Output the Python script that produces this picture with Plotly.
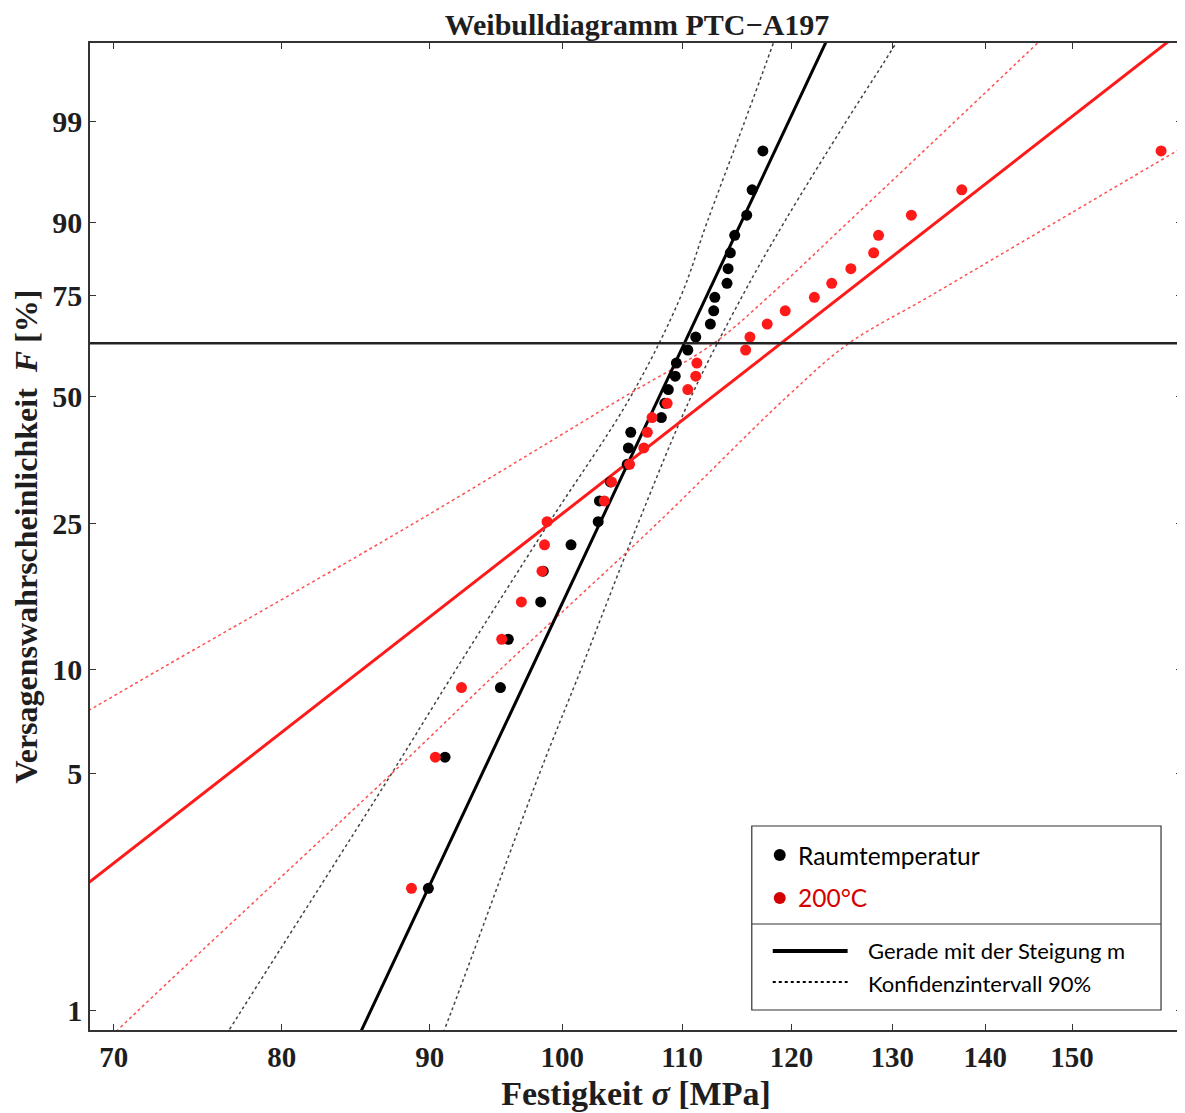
import numpy as np
import plotly.graph_objects as go

# median ranks (Benard) of the 30 specimens per series, F in %
F_rank = [2.30, 5.59, 8.88, 12.17, 15.46, 18.75, 22.04, 25.33, 28.62, 31.91,
          35.20, 38.49, 41.78, 45.07, 48.36, 51.64, 54.93, 58.22, 61.51, 64.80,
          68.09, 71.38, 74.67, 77.96, 81.25, 84.54, 87.83, 91.12, 94.41, 97.70]

# strength values [MPa]
sigma_rt = [89.9, 91.1, 95.2, 95.8, 98.3, 98.5, 100.7, 102.9, 103.0, 103.9,
            105.3, 105.4, 105.6, 108.2, 108.5, 108.8, 109.4, 109.5, 110.5, 111.2,
            112.5, 112.8, 112.9, 114.0, 114.1, 114.3, 114.7, 115.8, 116.3, 117.3]
sigma_200 = [88.7, 90.4, 92.3, 95.3, 96.8, 98.4, 98.6, 98.8, 103.4, 104.0,
             105.5, 106.7, 107.0, 107.4, 108.7, 110.5, 111.2, 111.3, 115.7, 116.1,
             117.7, 119.4, 122.2, 123.9, 125.8, 128.1, 128.6, 132.0, 137.4, 161.0]

# Weibull fits: modulus m and characteristic strength sigma0
m_rt, s0_rt = 18.46, 110.2
m_200, s0_200 = 6.76, 119.0
sigma_line = [60, 180]

# 90% confidence bands
F_band_rt = [0.5, 1, 5, 10, 25, 50, 75, 90, 99, 99.9, 99.99]
band_rt_left = [73.7, 77.5, 87.3, 91.9, 98.9, 105.6, 109.9, 112.2, 115.6, 117.6, 119.0]
band_rt_right = [88.8, 91.6, 98.2, 101.5, 106.2, 110.8, 115.4, 119.3, 125.3, 129.1, 131.8]

F_band_200_left = [5, 10, 25, 50, 63.2, 75, 90, 99, 99.9, 99.99]
band_200_left = [62.9, 72.6, 88.8, 105.1, 112.8, 117.9, 125.5, 136.6, 143.5, 148.6]
F_band_200_right = [0.5, 1, 5, 10, 25, 50, 63.2, 75, 90, 99]
band_200_right = [65.7, 71.4, 87.3, 95.2, 107.8, 119.6, 125.6, 134.0, 148.0, 169.5]

F_char = 63.21
F_ticks = [1, 5, 10, 25, 50, 75, 90, 99]
sigma_ticks = [70, 80, 90, 100, 110, 120, 130, 140, 150]


def wb(F):
    F = np.asarray(F, dtype=float) / 100.0
    return np.log(-np.log(1.0 - F))


def fit_w(m, s0):
    return m * np.log(np.asarray(sigma_line) / s0)


# the page body adds 8 px, so the figure is 8 px smaller than the window
OFF = 8
W, H = 1185 - OFF, 1113 - OFF
L, R, T, B = 90 - OFF, 1, 43 - OFF, 83
serif = "Liberation Serif"
red = "#ff1a1a"
ink = "#1e1e1e"

fig = go.Figure()

# confidence bands
fig.add_trace(go.Scatter(x=band_rt_left, y=wb(F_band_rt), mode="lines",
                         line=dict(color="#444444", width=1.5, dash="dot", shape="spline")))
fig.add_trace(go.Scatter(x=band_rt_right, y=wb(F_band_rt), mode="lines",
                         line=dict(color="#444444", width=1.5, dash="dot", shape="spline")))
fig.add_trace(go.Scatter(x=band_200_left, y=wb(F_band_200_left), mode="lines",
                         line=dict(color="#ff5050", width=1.5, dash="dot", shape="spline")))
fig.add_trace(go.Scatter(x=band_200_right, y=wb(F_band_200_right), mode="lines",
                         line=dict(color="#ff5050", width=1.5, dash="dot", shape="spline")))

# fit lines
fig.add_trace(go.Scatter(x=sigma_line, y=fit_w(m_rt, s0_rt), mode="lines",
                         line=dict(color="black", width=3)))
fig.add_trace(go.Scatter(x=sigma_line, y=fit_w(m_200, s0_200), mode="lines",
                         line=dict(color=red, width=3)))

# data points
fig.add_trace(go.Scatter(x=sigma_rt, y=wb(F_rank), mode="markers",
                         marker=dict(color="black", size=11)))
fig.add_trace(go.Scatter(x=sigma_200, y=wb(F_rank), mode="markers",
                         marker=dict(color=red, size=11)))

# characteristic 63.2 % line
w_char = float(wb([F_char])[0])
shapes = [dict(type="line", xref="paper", x0=0, x1=1, yref="y", y0=w_char, y1=w_char,
               line=dict(color="#222222", width=2.5))]


# hand-made legend, positions in window pixels
def px(x, y):
    x, y = x - OFF, y - OFF
    return (x - L) / (W - L - R), (H - B - y) / (H - T - B)


x0, y0 = px(753, 1010)
x1, y1 = px(1163, 826)
shapes.append(dict(type="rect", xref="paper", yref="paper", x0=x0, y0=y0, x1=x1, y1=y1,
                   line=dict(color="#333333", width=1.2), fillcolor="white", layer="above"))
_, yd = px(0, 924)
shapes.append(dict(type="line", xref="paper", yref="paper", x0=x0, x1=x1, y0=yd, y1=yd,
                   line=dict(color="#333333", width=1.2), layer="above"))
for cy, col in [(855, "black"), (898, "#d40000")]:
    a, b = px(775, cy + 6)
    c, d = px(787, cy - 6)
    shapes.append(dict(type="circle", xref="paper", yref="paper", x0=a, y0=b, x1=c, y1=d,
                       fillcolor=col, line=dict(width=0), layer="above"))
a, ly = px(774, 951)
c, _ = px(849, 951)
shapes.append(dict(type="line", xref="paper", yref="paper", x0=a, x1=c, y0=ly, y1=ly,
                   line=dict(color="black", width=4), layer="above"))
_, ly = px(0, 982)
shapes.append(dict(type="line", xref="paper", yref="paper", x0=a, x1=c, y0=ly, y1=ly,
                   line=dict(color="black", width=2, dash="dot"), layer="above"))

sans = "Lato"
annotations = []
for text, x, y, col, size in [("Raumtemperatur", 797, 855, "black", 24.5),
                              ("200°C", 797, 897, "#d40000", 24.5),
                              ("Gerade mit der Steigung m", 867, 950, "black", 22),
                              ("Konfidenzintervall 90%", 867, 983, "black", 22)]:
    ax, ay = px(x, y)
    annotations.append(dict(text=text, x=ax, y=ay, xref="paper", yref="paper",
                            xanchor="left", yanchor="middle", showarrow=False,
                            font=dict(family=sans, size=size, color=col)))

fig.update_layout(
    width=W, height=H,
    margin=dict(l=L, r=R, t=T, b=B),
    plot_bgcolor="white", paper_bgcolor="white",
    showlegend=False,
    title=dict(text="Weibulldiagramm PTC\u2212A197", x=(L + (W - R)) / 2 / W, xanchor="center",
               y=1 - 16 / H, yanchor="middle",
               font=dict(family=serif, size=30, weight="bold", color=ink)),
    shapes=shapes,
    annotations=annotations,
    xaxis=dict(type="log", range=[np.log10(68.69), np.log10(163.7)],
               tickvals=sigma_ticks, ticktext=[str(v) for v in sigma_ticks],
               ticks="inside", ticklen=6, tickcolor="#333333",
               showline=True, linecolor="#333333", linewidth=1.5, mirror="ticks",
               showgrid=False, zeroline=False,
               tickfont=dict(family=serif, size=29, weight="bold", color=ink),
               title=dict(text="Festigkeit <i>\u03c3</i> [MPa]", standoff=10,
                          font=dict(family=serif, size=34, weight="bold", color=ink))),
    yaxis=dict(range=[-4.738, 2.072],
               tickvals=list(wb(F_ticks)), ticktext=[str(v) for v in F_ticks],
               ticks="inside", ticklen=6, tickcolor="#333333",
               showline=True, linecolor="#333333", linewidth=1.5, mirror="ticks",
               showgrid=False, zeroline=False,
               tickfont=dict(family=serif, size=30, weight="bold", color=ink),
               title=dict(text="Versagenswahrscheinlichkeit  <i>F</i> [%]", standoff=6,
                          font=dict(family=serif, size=32, weight="bold", color=ink))),
)

fig.write_html("out.html")
